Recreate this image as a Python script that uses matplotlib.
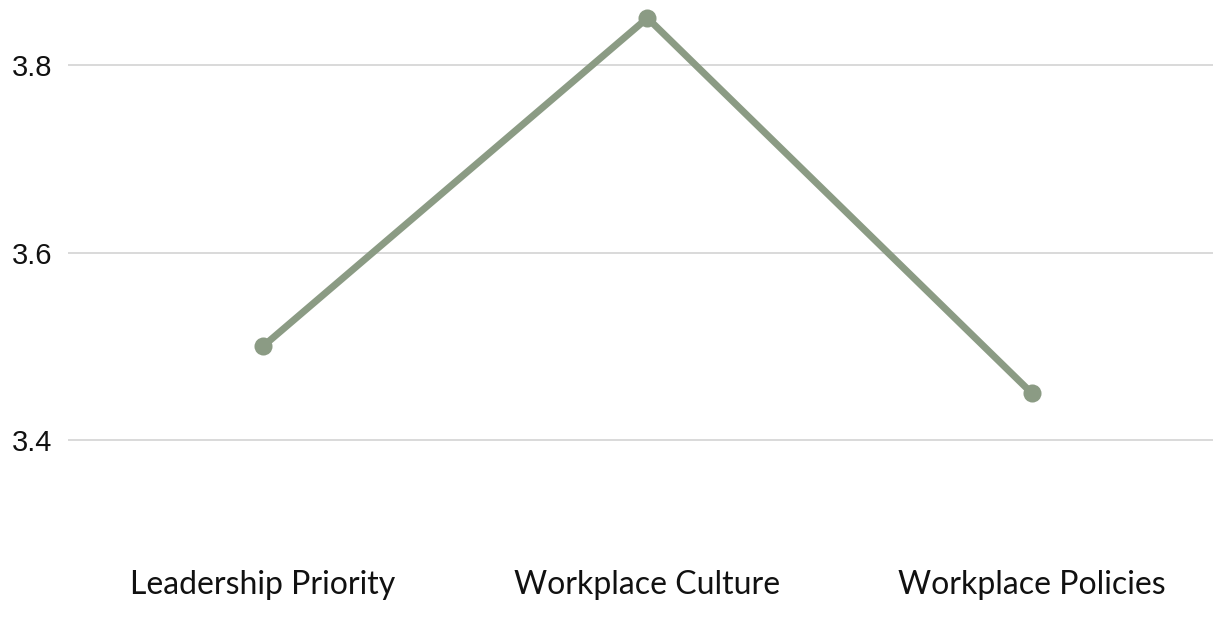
import matplotlib
matplotlib.use("Agg")
import matplotlib.pyplot as plt

categories = ["Leadership Priority", "Workplace Culture", "Workplace Policies"]
scores = [3.5, 3.85, 3.45]
y_ticks = [3.4, 3.6, 3.8]

W, H = 1215, 630
fig = plt.figure(figsize=(W / 100, H / 100), dpi=100)
left, right, top, bottom = 68, 1213, 18, 534
ax = fig.add_axes([left / W, (H - bottom) / H, (right - left) / W, (bottom - top) / H])

line_color = "#8b9b84"
x = list(range(len(categories)))
ax.plot(x, scores, color=line_color, linewidth=5, solid_capstyle="round",
        marker="o", markersize=13, markeredgewidth=0, clip_on=False, zorder=3)

ax.set_xlim(-0.507, 2.471)
ax.set_ylim(3.3, 3.85)
ax.set_yticks(y_ticks)
ax.set_yticklabels([f"{v:.1f}" for v in y_ticks], fontsize=21, family="Liberation Sans")
ax.set_xticks(x)
ax.set_xticklabels(categories, fontsize=23, family="Lato")
ax.tick_params(axis="y", length=0, pad=11, colors="#111111")
ax.tick_params(axis="x", length=0, pad=26, colors="#111111")
ax.grid(axis="y", color="#d3d3d3", linewidth=1.2)
ax.set_axisbelow(True)
for s in ax.spines.values():
    s.set_visible(False)

fig.savefig("out.png", dpi=100, facecolor="white")
